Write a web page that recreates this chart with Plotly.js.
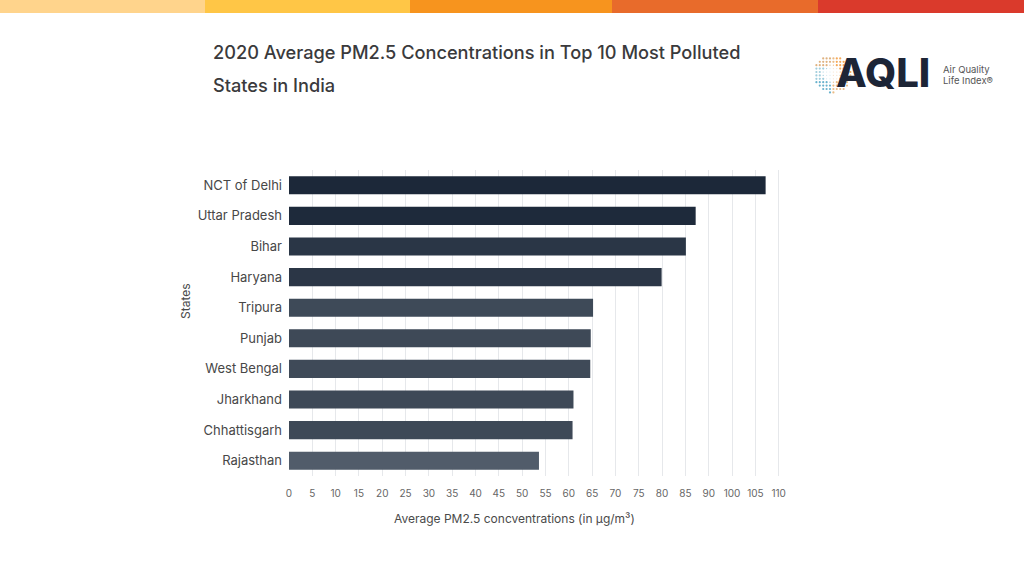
<!DOCTYPE html>
<html>
<head>
<meta charset="utf-8">
<script src="https://cdn.plot.ly/plotly-3.0.1.min.js"></script>
<style>html,body{margin:0;padding:0;background:#fff;}#chart{width:1024px;height:576px;}</style>
</head>
<body>
<div id="chart"></div>
<script>
// Data (values in axis units as drawn on the chart)
const states = ["NCT of Delhi","Uttar Pradesh","Bihar","Haryana","Tripura","Punjab","West Bengal","Jharkhand","Chhattisgarh","Rajasthan"];
const pm25 = [102.2, 87.2, 85.1, 79.9, 65.2, 64.7, 64.6, 61.0, 60.8, 53.6];
const barColors = ["#1c2839","#1e2a3b","#2a3646","#2b3646","#3e4a58","#3e4957","#3f4a58","#3e4957","#3e4957","#515c6a"];
// Tick labels exactly as printed on the reference axis
const tickPositions = [0,5,10,15,20,25,30,35,40,45,50,55,60,65,70,75,80,85,90,95,100,105];
const tickLabels = ["0","5","10","15","20","25","30","35","40","45","50","55","60","65","70","75","80","85","90","100","105","110"];

const W = 1024, H = 576;
const M = {l:289, r:222, t:170, b:100};
const PW = W - M.l - M.r, PH = H - M.t - M.b;
// convert page pixels to paper coordinates (relative to plot area)
const px = x => (x - M.l) / PW;
const py = y => (H - M.b - y) / PH;

const font = "Inter, 'Noto Sans', sans-serif";

const trace = {
  type: "bar",
  orientation: "h",
  y: states,
  x: pm25,
  marker: {color: barColors, line: {width: 0}},
  hoverinfo: "x+y",
  cliponaxis: false
};

// Top color stripe
const stripeColors = ["#ffd48c","#ffc646","#f7941e","#e86b2b","#da3a2c"];
const stripeEdges = [0,205,410,612,818,1024];
const shapes = stripeColors.map((c,i)=>({
  type:"rect", xref:"paper", yref:"paper",
  x0: px(stripeEdges[i]), x1: px(stripeEdges[i+1]), y0: py(13), y1: py(0),
  fillcolor:c, line:{width:0}, layer:"above"
}));

// Logo dot cluster (decoration)
const cx = 832, cy = 74, R = 19;
for (let gx = -R; gx <= R; gx += 3.4) {
  for (let gy = -R; gy <= R; gy += 3.4) {
    const d = Math.sqrt(gx*gx+gy*gy);
    if (d > R) continue;
    let col;
    if (gx > 4 && gy < 0) col = "#f39a3c";
    else if (gx > 0) col = "#e8b070";
    else if (gy < -6) col = "#d9a56a";
    else if (gy > 6) col = "#4fa5c4";
    else col = "#8fc4d6";
    const r = d < R*0.5 ? 0.6 : 1.1;
    shapes.push({type:"circle", xref:"paper", yref:"paper",
      x0: px(cx+gx-r), x1: px(cx+gx+r), y0: py(cy+gy+r), y1: py(cy+gy-r),
      fillcolor: col, line:{width:0}, opacity: d < R*0.4 ? 0.35 : 0.85});
  }
}

const annotations = [
  {text:"2020 Average PM2.5 Concentrations in Top 10 Most Polluted", x:px(211), y:py(52), xref:"paper", yref:"paper", xanchor:"left", yanchor:"middle", showarrow:false, font:{family:font, size:18.2, color:"#3a3a3c", weight:500}},
  {text:"States in India", x:px(211), y:py(85), xref:"paper", yref:"paper", xanchor:"left", yanchor:"middle", showarrow:false, font:{family:font, size:18.2, color:"#3a3a3c", weight:500}},
  {text:"States", x:px(185), y:py(301), xref:"paper", yref:"paper", xanchor:"center", yanchor:"middle", textangle:-90, showarrow:false, font:{family:font, size:12, color:"#4a4a4a"}},
  {text:"Average PM2.5 concventrations (in µg/m³)", x:px(514), y:py(518), xref:"paper", yref:"paper", xanchor:"center", yanchor:"middle", showarrow:false, font:{family:font, size:12, color:"#4a4a4a"}},
  {text:"AQLI", x:px(834), y:py(72), xref:"paper", yref:"paper", xanchor:"left", yanchor:"middle", showarrow:false, font:{family:font, size:40, color:"#1d2536", weight:800}},
  {text:"Air Quality", x:px(941), y:py(69), xref:"paper", yref:"paper", xanchor:"left", yanchor:"middle", showarrow:false, font:{family:font, size:9.5, color:"#555"}},
  {text:"Life Index®", x:px(941), y:py(81), xref:"paper", yref:"paper", xanchor:"left", yanchor:"middle", showarrow:false, font:{family:font, size:9.5, color:"#555"}}
];

const layout = {
  width: W, height: H,
  margin: {l:M.l, r:M.r, t:M.t, b:M.b, pad:0},
  paper_bgcolor:"#ffffff", plot_bgcolor:"#ffffff",
  showlegend:false,
  bargap:0.41,
  font:{family:font, color:"#4a4a4a"},
  xaxis:{
    range:[0,110], tickmode:"array", tickvals:tickPositions, ticktext:tickLabels,
    showgrid:true, gridcolor:"#e6e8eb", gridwidth:1, zeroline:false,
    showline:false, ticks:"", tickfont:{family:font, size:10, color:"#666"},
    ticklabelstandoff:10, fixedrange:true
  },
  yaxis:{
    autorange:"reversed", showgrid:false, zeroline:false, showline:false, ticks:"",
    tickfont:{family:font, size:13, color:"#474747"}, ticklabelstandoff:6, fixedrange:true
  },
  shapes: shapes,
  annotations: annotations
};

Plotly.newPlot("chart", [trace], layout, {displayModeBar:false, staticPlot:true});
</script>
</body>
</html>
